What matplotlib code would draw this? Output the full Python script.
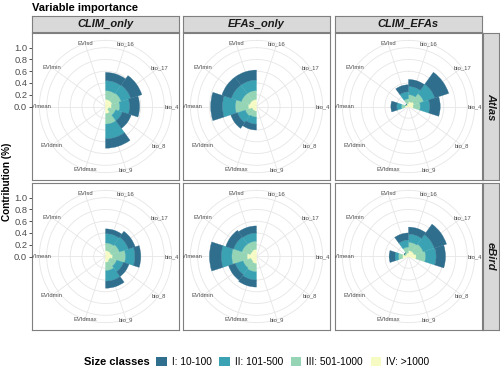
import matplotlib
matplotlib.use("Agg")
import matplotlib.pyplot as plt
import numpy as np
from matplotlib.patches import Patch

plt.rcParams['font.family'] = ['Liberation Sans', 'DejaVu Sans']

# ---- data -------------------------------------------------------------
variables = ["bio_16", "bio_17", "bio_4", "bio_8", "bio_9",
             "EVIdmax", "EVIdmin", "EVImean", "EVImin", "EVIsd"]
models = ["CLIM_only", "EFAs_only", "CLIM_EFAs"]
sources = ["Atlas", "eBird"]
size_classes = ["I: 10-100", "II: 101-500", "III: 501-1000", "IV: >1000"]
r_ticks = [0.0, 0.2, 0.4, 0.6, 0.8, 1.0]

# contribution of each size class (rows I, II, III, IV) per variable
atlas_clim_only = [
    [0.14, 0.20, 0.17, 0.16, 0.16, 0, 0, 0, 0, 0],
    [0.17, 0.17, 0.17, 0.12, 0.25, 0, 0, 0, 0, 0],
    [0.15, 0.16, 0.14, 0.12, 0.18, 0, 0, 0, 0, 0],
    [0.12, 0.12, 0.10, 0.06, 0.12, 0, 0, 0, 0, 0],
]
atlas_efas_only = [
    [0, 0, 0, 0, 0, 0.10, 0.12, 0.20, 0.17, 0.17],
    [0, 0, 0, 0, 0, 0.12, 0.14, 0.22, 0.18, 0.18],
    [0, 0, 0, 0, 0, 0.10, 0.12, 0.22, 0.15, 0.15],
    [0, 0, 0, 0, 0, 0.08, 0.08, 0.14, 0.12, 0.12],
]
atlas_clim_efas = [
    [0.12, 0.25, 0.18, 0, 0, 0, 0, 0.10, 0.00, 0.12],
    [0.14, 0.20, 0.16, 0, 0, 0, 0, 0.08, 0.00, 0.12],
    [0.12, 0.17, 0.12, 0, 0, 0, 0, 0.06, 0.02, 0.08],
    [0.08, 0.10, 0.08, 0, 0, 0, 0, 0.06, 0.03, 0.05],
]
ebird_clim_only = [
    [0.08, 0.12, 0.10, 0.10, 0.12, 0, 0, 0, 0, 0],
    [0.16, 0.16, 0.16, 0.12, 0.18, 0, 0, 0, 0, 0],
    [0.13, 0.15, 0.22, 0.12, 0.14, 0, 0, 0, 0, 0],
    [0.10, 0.10, 0.12, 0.08, 0.10, 0, 0, 0, 0, 0],
]
ebird_efas_only = [
    [0, 0, 0, 0, 0, 0.12, 0.12, 0.20, 0.14, 0.12],
    [0, 0, 0, 0, 0, 0.14, 0.14, 0.18, 0.15, 0.14],
    [0, 0, 0, 0, 0, 0.14, 0.14, 0.26, 0.15, 0.14],
    [0, 0, 0, 0, 0, 0.12, 0.10, 0.16, 0.11, 0.12],
]
ebird_clim_efas = [
    [0.12, 0.22, 0.16, 0, 0, 0, 0, 0.10, 0.00, 0.12],
    [0.14, 0.20, 0.18, 0, 0, 0, 0, 0.06, 0.00, 0.12],
    [0.14, 0.16, 0.16, 0, 0, 0, 0, 0.07, 0.03, 0.10],
    [0.10, 0.10, 0.13, 0, 0, 0, 0, 0.10, 0.05, 0.06],
]

panel_data = {
    ("Atlas", "CLIM_only"): atlas_clim_only,
    ("Atlas", "EFAs_only"): atlas_efas_only,
    ("Atlas", "CLIM_EFAs"): atlas_clim_efas,
    ("eBird", "CLIM_only"): ebird_clim_only,
    ("eBird", "EFAs_only"): ebird_efas_only,
    ("eBird", "CLIM_EFAs"): ebird_clim_efas,
}

# ---- style ------------------------------------------------------------
colors = ["#2F6E8D", "#3AA2B3", "#95D5B5", "#F6FBC4"]
GRID = "#E6E6E6"
BORDER = "#7F7F7F"
STRIP = "#D9D9D9"
TXT = "#4D4D4D"

W, H = 500, 369
col_x = [32, 183, 335]
row_y = [33, 183]
PW = 147


def rect(x, y, w, h):
    # pixel box (top-left origin) -> figure fraction
    return [x / W, 1 - (y + h) / H, w / W, h / H]


fig = plt.figure(figsize=(5, 3.69), dpi=100)

theta = np.deg2rad(np.arange(len(variables)) * 36 + 18)
bar_w = 2 * np.pi / len(variables)

for r, src in enumerate(sources):
    for c, mod in enumerate(models):
        x0, y0 = col_x[c], row_y[r]

        pan = fig.add_axes(rect(x0, y0, PW, PW))
        pan.set_xlim(0, 1)
        pan.set_ylim(0, 1)
        pan.set_xticks([])
        for sp in pan.spines.values():
            sp.set_color(BORDER)
            sp.set_linewidth(0.8)
        if c == 0:
            pan.set_yticks([0.5 + 0.4 * v for v in r_ticks])
            pan.set_yticklabels([f"{v:.1f}" for v in r_ticks], fontsize=6.7, color=TXT)
            pan.tick_params(axis='y', length=2.5, width=0.6, color="#333333", pad=1)
        else:
            pan.set_yticks([])

        R = 0.45 * PW
        pax = fig.add_axes(rect(x0 + PW / 2 - R, y0 + PW / 2 - R, 2 * R, 2 * R),
                           projection='polar')
        pax.set_facecolor('none')
        pax.set_theta_zero_location('N')
        pax.set_theta_direction(-1)
        pax.set_ylim(0, 1.125)
        pax.set_xticks(theta)
        pax.set_xticklabels([])
        pax.set_yticks(r_ticks[1:])
        pax.set_yticklabels([])
        pax.tick_params(length=0)
        pax.grid(color=GRID, linewidth=0.6)
        pax.spines['polar'].set_color(GRID)
        pax.spines['polar'].set_linewidth(0.6)
        pax.set_axisbelow(True)

        vals = np.array(panel_data[(src, mod)])
        bottom = np.zeros(len(variables))
        for k in [3, 2, 1, 0]:
            pax.bar(theta, vals[k], width=bar_w, bottom=bottom, color=colors[k],
                    edgecolor=colors[k], linewidth=0.2, align='center')
            bottom = bottom + vals[k]

        for th, lab in zip(theta, variables):
            t = pax.text(th, 1.125, lab, fontsize=4.2, color=TXT,
                         ha='center', va='center', clip_on=True)
            t.set_clip_path(pan.patch)

        # strips
        if r == 0:
            st = fig.add_axes(rect(x0, 16, PW, 16))
            st.set_facecolor(STRIP)
            st.set_xticks([])
            st.set_yticks([])
            for sp in st.spines.values():
                sp.set_color(BORDER)
                sp.set_linewidth(0.8)
            st.text(0.5, 0.5, mod, ha='center', va='center', fontsize=8,
                    fontweight='bold', fontstyle='italic', color="#1A1A1A",
                    transform=st.transAxes)
        if c == len(models) - 1:
            st = fig.add_axes(rect(483, y0, 16, PW))
            st.set_facecolor(STRIP)
            st.set_xticks([])
            st.set_yticks([])
            for sp in st.spines.values():
                sp.set_color(BORDER)
                sp.set_linewidth(0.8)
            st.text(0.5, 0.5, src, ha='center', va='center', fontsize=8,
                    fontweight='bold', fontstyle='italic', color="#1A1A1A",
                    rotation=-90, transform=st.transAxes)

fig.text(32 / W, 1 - 8 / H, "Variable importance", fontsize=8, fontweight='bold',
         ha='left', va='center')
fig.text(7 / W, 1 - 182 / H, "Contribution (%)", fontsize=7.2, fontweight='bold',
         rotation=90, ha='center', va='center')

fig.text(84 / W, 1 - 362 / H, "Size classes", fontsize=8, fontweight='bold',
         ha='left', va='center')
handles = [Patch(facecolor=col, edgecolor='none', label=lab)
           for col, lab in zip(colors, size_classes)]
fig.legend(handles=handles, ncol=4, loc='center left',
           bbox_to_anchor=(156 / W, 1 - 362 / H), frameon=False,
           fontsize=7.3, handlelength=1.05, handleheight=1.05,
           handletextpad=0.5, columnspacing=0.75, borderpad=0, borderaxespad=0)

fig.savefig("out.png", dpi=100)
